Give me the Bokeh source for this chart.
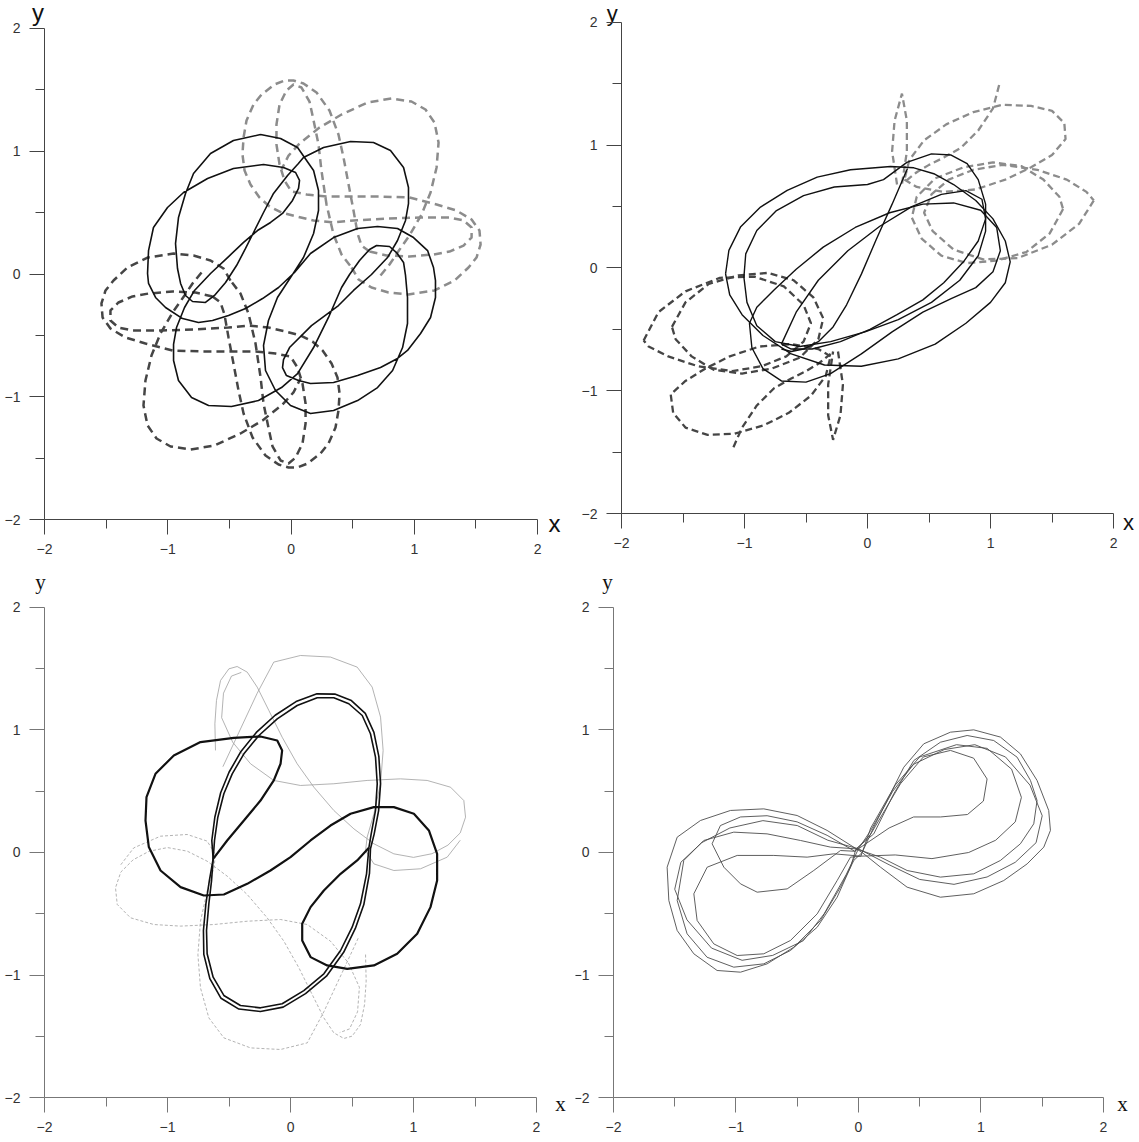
from bokeh.plotting import figure
from bokeh.layouts import column, row
from bokeh.models import Range1d, FixedTicker
from bokeh.core.properties import value
from bokeh.embed import file_html
from bokeh.resources import INLINE

# ---------------- data (data units) ----------------
ticks = [-2, -1, 0, 1, 2]
minor = [-1.5, -0.5, 0.5, 1.5]

# Panel 1: solid body
p1_solid_x = [-0.247, -0.085, 0.053, 0.183, 0.223, 0.223, 0.183, 0.101, -0.004, -0.110, -0.183, -0.223, -0.207, -0.126, -0.004, 0.158, 0.345, 0.540, 0.702, 0.824, 0.905, 0.945, 0.945, 0.929, 0.913, 0.856, 0.799, 0.694, 0.637, 0.556, 0.475, 0.410, 0.304, 0.183, 0.053, -0.077, -0.264, -0.483, -0.669, -0.807, -0.913, -0.953, -0.953, -0.929, -0.864, -0.783, -0.653, -0.515, -0.385, -0.272, -0.166, -0.069, 0.012, 0.061, 0.069, 0.037, -0.061, -0.223, -0.467, -0.677, -0.872, -1.002, -1.116, -1.156, -1.164, -1.156, -1.099, -1.018, -0.880, -0.751, -0.637, -0.507, -0.369, -0.231, -0.101, 0.028, 0.158, 0.345, 0.540, 0.702, 0.864, 0.994, 1.108, 1.156, 1.172, 1.172, 1.132, 1.051, 0.945, 0.864, 0.726, 0.540, 0.345, 0.158, 0.061, -0.037, -0.069, -0.061, -0.012, 0.166, 0.385, 0.507, 0.653, 0.783, 0.864, 0.929, 0.953, 0.953, 0.913, 0.807, 0.669, 0.483, 0.264, 0.101, 0.060, -0.028, -0.142, -0.223, -0.304, -0.369, -0.442, -0.531, -0.621, -0.694, -0.799, -0.856, -0.896, -0.921, -0.937, -0.913, -0.856, -0.791, -0.653, -0.467, -0.247]
p1_solid_y = [1.136, 1.104, 1.031, 0.843, 0.680, 0.517, 0.330, 0.134, -0.029, -0.191, -0.379, -0.582, -0.786, -0.949, -1.071, -1.136, -1.112, -1.031, -0.925, -0.786, -0.599, -0.403, -0.191, -0.012, 0.094, 0.175, 0.224, 0.232, 0.200, 0.110, -0.004, -0.110, -0.354, -0.599, -0.811, -0.925, -1.031, -1.079, -1.071, -1.006, -0.868, -0.705, -0.574, -0.436, -0.273, -0.134, 0.004, 0.134, 0.257, 0.354, 0.420, 0.493, 0.599, 0.697, 0.762, 0.827, 0.868, 0.892, 0.859, 0.778, 0.664, 0.542, 0.379, 0.191, 0.004, -0.077, -0.191, -0.273, -0.363, -0.395, -0.379, -0.338, -0.281, -0.200, -0.110, 0.012, 0.167, 0.297, 0.371, 0.387, 0.371, 0.297, 0.191, 0.053, -0.053, -0.191, -0.354, -0.485, -0.623, -0.688, -0.762, -0.827, -0.884, -0.892, -0.868, -0.827, -0.762, -0.697, -0.599, -0.420, -0.257, -0.134, -0.004, 0.134, 0.273, 0.436, 0.574, 0.705, 0.868, 1.006, 1.071, 1.079, 1.031, 0.949, 0.900, 0.802, 0.656, 0.501, 0.338, 0.208, 0.069, -0.069, -0.175, -0.232, -0.224, -0.175, -0.077, 0.045, 0.248, 0.460, 0.656, 0.819, 0.982, 1.088, 1.136]

# Panel 1: dark dashed body (lower left): three traced strokes
p1_dark_a_x = [-0.491, -0.548, -0.653, -0.791, -0.953, -1.164, -1.327, -1.440, -1.505, -1.538, -1.529, -1.465, -1.343, -1.181, -0.961, -0.718, -0.507, -0.288, -0.126, -0.004, 0.053, 0.093, 0.118, 0.118, 0.093, 0.037, -0.020, -0.085, -0.150, -0.183, -0.223, -0.247, -0.288, -0.345, -0.410, -0.491]
p1_dark_a_y = [-0.053, 0.045, 0.110, 0.151, 0.167, 0.134, 0.053, -0.053, -0.134, -0.240, -0.354, -0.444, -0.517, -0.566, -0.623, -0.631, -0.631, -0.631, -0.648, -0.672, -0.762, -0.892, -1.055, -1.218, -1.381, -1.495, -1.544, -1.519, -1.405, -1.251, -1.055, -0.843, -0.566, -0.322, -0.159, -0.053]
p1_dark_b_x = [-0.637, -0.775, -0.961, -1.156, -1.286, -1.400, -1.465, -1.465, -1.400, -1.286, -1.043, -0.775, -0.507, -0.345, -0.183, -0.045, 0.077, 0.174, 0.256, 0.329, 0.377, 0.394, 0.385, 0.361, 0.304, 0.239, 0.134, 0.053, -0.020, -0.101, -0.207, -0.312, -0.385, -0.426, -0.467, -0.507, -0.540, -0.572, -0.637]
p1_dark_b_y = [-0.183, -0.151, -0.143, -0.159, -0.183, -0.232, -0.297, -0.379, -0.436, -0.460, -0.460, -0.452, -0.436, -0.420, -0.436, -0.468, -0.501, -0.550, -0.623, -0.729, -0.843, -0.974, -1.112, -1.251, -1.381, -1.462, -1.544, -1.576, -1.576, -1.552, -1.479, -1.332, -1.136, -0.949, -0.729, -0.517, -0.330, -0.232, -0.183]
p1_dark_c_x = [-0.726, -0.799, -0.864, -0.961, -1.059, -1.132, -1.181, -1.197, -1.164, -1.091, -0.977, -0.815, -0.621, -0.410, -0.231, -0.069, 0.020, 0.077]
p1_dark_c_y = [0.012, -0.077, -0.175, -0.314, -0.485, -0.664, -0.868, -1.071, -1.234, -1.340, -1.405, -1.430, -1.397, -1.299, -1.193, -1.063, -0.965, -0.851]

# Panel 1: light dashed body (upper right): three traced strokes
p1_light_a_x = [0.491, 0.548, 0.653, 0.791, 0.953, 1.164, 1.327, 1.440, 1.505, 1.538, 1.529, 1.465, 1.343, 1.181, 0.961, 0.718, 0.507, 0.288, 0.126, 0.004, -0.053, -0.093, -0.118, -0.118, -0.093, -0.037, 0.020, 0.085, 0.150, 0.183, 0.223, 0.247, 0.288, 0.345, 0.410, 0.491]
p1_light_a_y = [0.053, -0.045, -0.110, -0.151, -0.167, -0.134, -0.053, 0.053, 0.134, 0.240, 0.354, 0.444, 0.517, 0.566, 0.623, 0.631, 0.631, 0.631, 0.648, 0.672, 0.762, 0.892, 1.055, 1.218, 1.381, 1.495, 1.544, 1.519, 1.405, 1.251, 1.055, 0.843, 0.566, 0.322, 0.159, 0.053]
p1_light_b_x = [0.637, 0.775, 0.961, 1.156, 1.286, 1.400, 1.465, 1.465, 1.400, 1.286, 1.043, 0.775, 0.507, 0.345, 0.183, 0.045, -0.077, -0.174, -0.256, -0.329, -0.377, -0.394, -0.385, -0.361, -0.304, -0.239, -0.134, -0.053, 0.020, 0.101, 0.207, 0.312, 0.385, 0.426, 0.467, 0.507, 0.540, 0.572, 0.637]
p1_light_b_y = [0.183, 0.151, 0.143, 0.159, 0.183, 0.232, 0.297, 0.379, 0.436, 0.460, 0.460, 0.452, 0.436, 0.420, 0.436, 0.468, 0.501, 0.550, 0.623, 0.729, 0.843, 0.974, 1.112, 1.251, 1.381, 1.462, 1.544, 1.576, 1.576, 1.552, 1.479, 1.332, 1.136, 0.949, 0.729, 0.517, 0.330, 0.232, 0.183]
p1_light_c_x = [0.726, 0.799, 0.864, 0.961, 1.059, 1.132, 1.181, 1.197, 1.164, 1.091, 0.977, 0.815, 0.621, 0.410, 0.231, 0.069, -0.020, -0.077]
p1_light_c_y = [-0.012, 0.077, 0.175, 0.314, 0.485, 0.664, 0.868, 1.071, 1.234, 1.340, 1.405, 1.430, 1.397, 1.299, 1.193, 1.063, 0.965, 0.851]

# Panel 2: solid body (several elongated loops) and the two dashed bodies
p2_s1_x = [-1.154, -1.127, -1.033, -0.870, -0.653, -0.409, -0.138, 0.187, 0.377, 0.539, 0.70, 0.88, 1.02, 1.12, 1.16, 1.12, 1.00, 0.80, 0.55, 0.25, -0.05, -0.35, -0.62, -0.85, -1.02, -1.12, -1.154]
p2_s1_y = [-0.048, 0.143, 0.333, 0.496, 0.632, 0.740, 0.800, 0.827, 0.816, 0.768, 0.68, 0.55, 0.40, 0.22, 0.05, -0.12, -0.28, -0.45, -0.62, -0.74, -0.80, -0.79, -0.70, -0.55, -0.38, -0.22, -0.048]
p2_s2_x = [-1.005, -0.99, -0.90, -0.74, -0.52, -0.27, 0.0, 0.13, 0.32, 0.52, 0.68, 0.81, 0.90, 0.96, 0.96, 0.90, 0.75, 0.52, 0.25, -0.02, -0.30, -0.55, -0.75, -0.90, -0.98, -1.005]
p2_s2_y = [-0.075, 0.115, 0.305, 0.468, 0.590, 0.660, 0.68, 0.72, 0.86, 0.93, 0.92, 0.85, 0.72, 0.52, 0.30, 0.10, -0.10, -0.28, -0.42, -0.52, -0.60, -0.64, -0.60, -0.47, -0.28, -0.075]
p2_s3_x = [-0.96, -0.94, -0.85, -0.70, -0.50, -0.30, -0.05, 0.20, 0.45, 0.68, 0.88, 1.02, 1.08, 1.05, 0.92, 0.70, 0.45, 0.18, -0.10, -0.36, -0.58, -0.76, -0.90, -0.96]
p2_s3_y = [-0.45, -0.65, -0.82, -0.92, -0.93, -0.86, -0.70, -0.52, -0.36, -0.25, -0.16, -0.03, 0.14, 0.33, 0.47, 0.53, 0.52, 0.45, 0.33, 0.17, -0.01, -0.18, -0.32, -0.45]
p2_s4_x = [-0.70, -0.62, -0.45, -0.22, 0.02, 0.24, 0.45, 0.62, 0.78, 0.90, 0.96, 0.93, 0.80, 0.60, 0.36, 0.10, -0.16, -0.40, -0.58, -0.70]
p2_s4_y = [-0.62, -0.66, -0.66, -0.60, -0.50, -0.38, -0.26, -0.12, 0.05, 0.22, 0.40, 0.56, 0.63, 0.60, 0.50, 0.34, 0.14, -0.10, -0.36, -0.62]
p2_s5_x = [0.325, 0.20, 0.07, -0.05, -0.17, -0.28, -0.40, -0.52, -0.62, -0.70]
p2_s5_y = [0.81, 0.52, 0.23, -0.05, -0.30, -0.48, -0.60, -0.66, -0.68, -0.66]

p2_dark_a_x = [-1.82, -1.70, -1.48, -1.20, -0.92, -0.68, -0.52, -0.46, -0.52, -0.66, -0.86, -1.10, -1.38, -1.62, -1.78, -1.82]
p2_dark_a_y = [-0.59, -0.36, -0.19, -0.08, -0.07, -0.15, -0.30, -0.45, -0.60, -0.72, -0.80, -0.84, -0.80, -0.72, -0.64, -0.59]
p2_dark_b_x = [-1.59, -1.48, -1.29, -1.05, -0.81, -0.60, -0.44, -0.36, -0.40, -0.55, -0.78, -1.02, -1.25, -1.43, -1.56, -1.59]
p2_dark_b_y = [-0.48, -0.28, -0.13, -0.06, -0.04, -0.10, -0.24, -0.41, -0.58, -0.73, -0.82, -0.86, -0.83, -0.72, -0.58, -0.48]
p2_dark_c_x = [-0.30, -0.40, -0.62, -0.88, -1.12, -1.32, -1.48, -1.60, -1.58, -1.48, -1.30, -1.08, -0.84, -0.64, -0.46, -0.34, -0.30]
p2_dark_c_y = [-0.72, -0.66, -0.62, -0.64, -0.72, -0.82, -0.92, -1.03, -1.18, -1.30, -1.36, -1.35, -1.28, -1.18, -1.04, -0.88, -0.72]
p2_dark_d_x = [-0.24, -0.20, -0.22, -0.28, -0.32, -0.32, -0.28]
p2_dark_d_y = [-0.68, -0.95, -1.20, -1.40, -1.20, -0.95, -0.68]
p2_dark_e_x = [-1.09, -1.02, -0.90, -0.76, -0.62, -0.50, -0.40, -0.30]
p2_dark_e_y = [-1.46, -1.30, -1.12, -0.98, -0.90, -0.84, -0.78, -0.70]

p2_light_a_x = [1.84, 1.72, 1.50, 1.22, 0.94, 0.70, 0.53, 0.46, 0.52, 0.66, 0.86, 1.10, 1.38, 1.62, 1.78, 1.84]
p2_light_a_y = [0.55, 0.36, 0.19, 0.08, 0.07, 0.15, 0.30, 0.45, 0.60, 0.72, 0.80, 0.84, 0.80, 0.72, 0.62, 0.55]
p2_light_b_x = [1.59, 1.48, 1.29, 1.05, 0.81, 0.60, 0.44, 0.36, 0.40, 0.55, 0.78, 1.02, 1.25, 1.43, 1.56, 1.59]
p2_light_b_y = [0.48, 0.28, 0.13, 0.06, 0.04, 0.10, 0.24, 0.41, 0.58, 0.73, 0.82, 0.86, 0.83, 0.72, 0.58, 0.48]
p2_light_c_x = [0.30, 0.40, 0.62, 0.88, 1.12, 1.33, 1.50, 1.61, 1.60, 1.50, 1.33, 1.10, 0.86, 0.64, 0.46, 0.34, 0.30]
p2_light_c_y = [0.72, 0.66, 0.62, 0.64, 0.72, 0.82, 0.92, 1.05, 1.18, 1.28, 1.32, 1.33, 1.27, 1.17, 1.04, 0.88, 0.72]
p2_light_d_x = [0.24, 0.20, 0.22, 0.28, 0.32, 0.32, 0.28]
p2_light_d_y = [0.68, 0.95, 1.20, 1.42, 1.20, 0.95, 0.68]
p2_light_e_x = [1.07, 1.02, 0.90, 0.76, 0.62, 0.50, 0.40, 0.30]
p2_light_e_y = [1.49, 1.30, 1.12, 0.98, 0.90, 0.84, 0.78, 0.70]

# Panel 3: black body, lobes + long loop (two passes of the long loop)
p3_lobes_x = [-0.629, -0.515, -0.379, -0.244, -0.136, -0.081, -0.068, -0.108, -0.244, -0.461, -0.732, -0.949, -1.098, -1.171, -1.179, -1.152, -1.057, -0.894, -0.705, -0.542, -0.352, -0.163, 0.000, 0.163, 0.325, 0.488, 0.678, 0.840, 1.003, 1.125, 1.192, 1.192, 1.138, 1.030, 0.867, 0.678, 0.461, 0.298, 0.163, 0.095, 0.095, 0.163, 0.271, 0.407, 0.542, 0.637]
p3_lobes_y = [-0.052, 0.098, 0.261, 0.424, 0.588, 0.724, 0.833, 0.914, 0.947, 0.936, 0.901, 0.792, 0.642, 0.452, 0.261, 0.044, -0.147, -0.283, -0.351, -0.343, -0.256, -0.147, -0.038, 0.098, 0.220, 0.316, 0.370, 0.370, 0.316, 0.180, -0.011, -0.229, -0.446, -0.664, -0.827, -0.922, -0.950, -0.922, -0.854, -0.718, -0.582, -0.446, -0.310, -0.174, -0.065, 0.038]
p3_loop_x = [-0.629, -0.618, -0.591, -0.542, -0.474, -0.379, -0.257, -0.108, 0.054, 0.217, 0.352, 0.474, 0.583, 0.650, 0.691, 0.705, 0.691, 0.656, 0.637, 0.618, 0.569, 0.501, 0.407, 0.271, 0.108, -0.068, -0.244, -0.407, -0.542, -0.629, -0.678, -0.683, -0.664, -0.642, -0.629]
p3_loop_y = [-0.052, 0.098, 0.288, 0.479, 0.642, 0.805, 0.955, 1.091, 1.200, 1.263, 1.263, 1.214, 1.118, 0.969, 0.778, 0.561, 0.343, 0.152, 0.038, -0.174, -0.419, -0.610, -0.800, -0.990, -1.127, -1.235, -1.268, -1.249, -1.167, -1.018, -0.827, -0.637, -0.419, -0.229, -0.052]
p3_loop2_x = [-0.629, -0.640, -0.615, -0.568, -0.500, -0.403, -0.278, -0.125, 0.045, 0.215, 0.360, 0.495, 0.608, 0.678, 0.718, 0.732, 0.716, 0.680, 0.650, 0.642, 0.596, 0.527, 0.432, 0.292, 0.122, -0.060, -0.245, -0.420, -0.565, -0.656, -0.705, -0.708, -0.688, -0.660, -0.629]
p3_loop2_y = [-0.052, 0.098, 0.290, 0.488, 0.655, 0.825, 0.980, 1.120, 1.232, 1.295, 1.293, 1.240, 1.135, 0.980, 0.785, 0.560, 0.340, 0.150, 0.030, -0.170, -0.425, -0.620, -0.815, -1.010, -1.152, -1.262, -1.298, -1.278, -1.190, -1.030, -0.832, -0.637, -0.419, -0.229, -0.052]
# Panel 3: light grey solid body (upper) and grey dashed body (lower)
p3_g1_x = [-0.610, -0.615, -0.602, -0.569, -0.501, -0.434, -0.352, -0.271, -0.176, -0.068, 0.054, 0.190, 0.352, 0.515, 0.678, 0.840, 1.000, 1.150, 1.280, 1.380, 1.423, 1.409, 1.301, 1.111, 0.894, 0.623, 0.352, 0.081, -0.136, -0.325, -0.470, -0.560, -0.545, -0.480, -0.400]
p3_g1_y = [0.833, 1.050, 1.241, 1.404, 1.499, 1.518, 1.472, 1.350, 1.159, 0.941, 0.724, 0.533, 0.343, 0.193, 0.071, -0.011, -0.040, -0.010, 0.060, 0.160, 0.288, 0.424, 0.533, 0.588, 0.601, 0.588, 0.561, 0.547, 0.588, 0.724, 0.900, 1.100, 1.300, 1.440, 1.470]
p3_g2_x = [-0.550, -0.420, -0.271, -0.136, 0.081, 0.325, 0.542, 0.664, 0.732, 0.753, 0.732, 0.678, 0.623, 0.610, 0.678, 0.840, 1.057, 1.274, 1.380]
p3_g2_y = [0.700, 0.980, 1.300, 1.554, 1.608, 1.595, 1.513, 1.350, 1.105, 0.833, 0.561, 0.316, 0.125, 0.016, -0.093, -0.147, -0.133, -0.038, 0.100]
p3_d1_x = [0.610, 0.615, 0.602, 0.569, 0.501, 0.434, 0.352, 0.271, 0.176, 0.068, -0.054, -0.190, -0.352, -0.515, -0.678, -0.840, -1.000, -1.150, -1.280, -1.380, -1.423, -1.409, -1.301, -1.111, -0.894, -0.623, -0.352, -0.081, 0.136, 0.325, 0.470, 0.560, 0.545, 0.480, 0.400]
p3_d1_y = [-0.833, -1.050, -1.241, -1.404, -1.499, -1.518, -1.472, -1.350, -1.159, -0.941, -0.724, -0.533, -0.343, -0.193, -0.071, 0.011, 0.040, 0.010, -0.060, -0.160, -0.288, -0.424, -0.533, -0.588, -0.601, -0.588, -0.561, -0.547, -0.588, -0.724, -0.900, -1.100, -1.300, -1.440, -1.470]
p3_d2_x = [0.550, 0.420, 0.271, 0.136, -0.081, -0.325, -0.542, -0.664, -0.732, -0.753, -0.732, -0.678, -0.623, -0.610, -0.678, -0.840, -1.057, -1.274, -1.380]
p3_d2_y = [-0.700, -0.980, -1.300, -1.554, -1.608, -1.595, -1.513, -1.350, -1.105, -0.833, -0.561, -0.316, -0.125, -0.016, 0.093, 0.147, 0.133, 0.038, -0.100]

# Panel 4: several thin figure-eight passes (centre -> right lobe -> centre -> left lobe -> centre)
p4_l1_x = [0.030, 0.125, 0.234, 0.370, 0.533, 0.751, 0.941, 1.159, 1.322, 1.458, 1.553, 1.567, 1.513, 1.377, 1.186, 0.941, 0.669, 0.397, 0.180, 0.030, -0.256, -0.501, -0.773, -1.045, -1.290, -1.480, -1.562, -1.548, -1.480, -1.344, -1.154, -0.963, -0.746, -0.528, -0.310, -0.147, -0.038, 0.030]
p4_l1_y = [0.000, 0.207, 0.424, 0.696, 0.887, 0.982, 1.001, 0.942, 0.805, 0.588, 0.343, 0.180, 0.044, -0.093, -0.229, -0.337, -0.365, -0.283, -0.120, 0.000, 0.180, 0.302, 0.356, 0.343, 0.261, 0.125, -0.120, -0.392, -0.637, -0.827, -0.963, -0.977, -0.909, -0.773, -0.555, -0.283, -0.065, 0.000]
p4_l2_x = [-0.020, 0.125, 0.288, 0.452, 0.669, 0.887, 1.104, 1.295, 1.404, 1.458, 1.431, 1.322, 1.159, 0.941, 0.669, 0.397, 0.180, -0.020, -0.229, -0.473, -0.746, -1.018, -1.263, -1.426, -1.480, -1.399, -1.236, -1.018, -0.773, -0.555, -0.337, -0.174, -0.065, -0.020]
p4_l2_y = [0.030, 0.152, 0.479, 0.751, 0.900, 0.955, 0.914, 0.778, 0.588, 0.424, 0.234, 0.071, -0.065, -0.174, -0.201, -0.147, -0.038, 0.030, 0.044, 0.098, 0.152, 0.166, 0.098, -0.065, -0.392, -0.664, -0.855, -0.936, -0.909, -0.800, -0.610, -0.365, -0.120, 0.030]
p4_l3_x = [0.020, 0.100, 0.300, 0.500, 0.800, 1.050, 1.250, 1.330, 1.280, 1.120, 0.900, 0.600, 0.300, 0.020, -0.201, -0.419, -0.691, -0.990, -1.235, -1.344, -1.317, -1.181, -0.990, -0.773, -0.555, -0.337, -0.174, -0.065, 0.020]
p4_l3_y = [-0.030, 0.200, 0.550, 0.780, 0.880, 0.850, 0.680, 0.450, 0.250, 0.100, 0.000, -0.050, -0.020, -0.030, -0.011, -0.038, -0.024, -0.024, -0.120, -0.337, -0.555, -0.746, -0.841, -0.827, -0.718, -0.501, -0.229, -0.038, -0.030]
p4_l4_x = [-0.030, 0.100, 0.343, 0.530, 0.751, 0.940, 1.050, 1.020, 0.890, 0.670, 0.450, 0.250, -0.030, -0.147, -0.365, -0.582, -0.827, -0.963, -1.099, -1.195, -1.127, -0.963, -0.746, -0.501, -0.256, -0.030]
p4_l4_y = [0.010, 0.150, 0.561, 0.780, 0.833, 0.770, 0.600, 0.420, 0.310, 0.290, 0.290, 0.200, 0.010, 0.016, -0.147, -0.297, -0.324, -0.256, -0.120, 0.071, 0.220, 0.290, 0.300, 0.250, 0.140, 0.010]
p4_l5_x = [0.000, 0.100, 0.280, 0.450, 0.700, 0.950, 1.200, 1.400, 1.500, 1.450, 1.280, 1.050, 0.780, 0.500, 0.250, 0.000, -0.250, -0.500, -0.780, -1.050, -1.280, -1.450, -1.500, -1.400, -1.200, -0.950, -0.700, -0.450, -0.280, -0.100, 0.000]
p4_l5_y = [0.030, 0.180, 0.500, 0.720, 0.840, 0.880, 0.780, 0.550, 0.300, 0.080, -0.080, -0.200, -0.260, -0.220, -0.100, 0.030, 0.100, 0.220, 0.260, 0.200, 0.080, -0.080, -0.300, -0.550, -0.780, -0.880, -0.840, -0.720, -0.500, -0.180, 0.030]

# figure canvases (px) and data ranges chosen so that -2..2 lands where the reference axes are
W1, W2, H1, H2 = 575, 563, 568, 573


def make_panel(W, H, xr, yr, axis_color, lab_font, lab_size, xlab, ylab):
    p = figure(width=W, height=H, x_range=Range1d(*xr), y_range=Range1d(*yr),
               output_backend="svg", toolbar_location=None, title=None, min_border=0)
    p.grid.visible = False
    p.outline_line_color = None
    p.border_fill_color = "white"
    p.background_fill_color = "white"
    p.xaxis.fixed_location = -2
    p.yaxis.fixed_location = -2
    for ax in (p.xaxis, p.yaxis):
        ax.bounds = (-2, 2)
        ax.ticker = FixedTicker(ticks=ticks, minor_ticks=minor)
        ax.major_tick_out = 15
        ax.major_tick_in = 0
        ax.minor_tick_out = 9
        ax.minor_tick_in = 0
        ax.axis_line_color = axis_color
        ax.major_tick_line_color = axis_color
        ax.minor_tick_line_color = axis_color
        ax.major_label_text_font = "Liberation Sans"
        ax.major_label_text_font_size = "14px"
        ax.major_label_text_color = "#333333"
        ax.major_label_standoff = 9
    p.text(x=[xlab[0]], y=[xlab[1]], text=["x"], text_font=value(lab_font),
           text_font_size=value(lab_size), text_color="#111111",
           text_align="center", text_baseline="alphabetic")
    p.text(x=[ylab[0]], y=[ylab[1]], text=["y"], text_font=value(lab_font),
           text_font_size=value(lab_size), text_color="#111111",
           text_align="center", text_baseline="alphabetic")
    return p


DASH = "8 5"
p1 = make_panel(W1, H1, (-2.357, 2.308), (-2.399, 2.228), "#444444", "Liberation Sans", "24px",
                (2.138, -2.033), (-2.053, 2.130))
for xs, ys in ((p1_dark_a_x, p1_dark_a_y), (p1_dark_b_x, p1_dark_b_y), (p1_dark_c_x, p1_dark_c_y)):
    p1.line(xs, ys, line_color="#454545", line_width=2.5, line_dash=DASH)
for xs, ys in ((p1_light_a_x, p1_light_a_y), (p1_light_b_x, p1_light_b_y), (p1_light_c_x, p1_light_c_y)):
    p1.line(xs, ys, line_color="#8c8c8c", line_width=2.5, line_dash=DASH)
p1.line(p1_solid_x, p1_solid_y, line_color="#111111", line_width=1.6)

p2 = make_panel(W2, H1, (-2.374, 2.203), (-2.448, 2.179), "#444444", "Liberation Sans", "22px",
                (2.122, -2.073), (-2.076, 2.077))
for xs, ys in ((p2_dark_a_x, p2_dark_a_y), (p2_dark_b_x, p2_dark_b_y), (p2_dark_c_x, p2_dark_c_y),
               (p2_dark_d_x, p2_dark_d_y), (p2_dark_e_x, p2_dark_e_y)):
    p2.line(xs, ys, line_color="#454545", line_width=2.3, line_dash="7 4")
for xs, ys in ((p2_light_a_x, p2_light_a_y), (p2_light_b_x, p2_light_b_y), (p2_light_c_x, p2_light_c_y),
               (p2_light_d_x, p2_light_d_y), (p2_light_e_x, p2_light_e_y)):
    p2.line(xs, ys, line_color="#8c8c8c", line_width=2.3, line_dash="7 4")
for xs, ys in ((p2_s1_x, p2_s1_y), (p2_s2_x, p2_s2_y), (p2_s3_x, p2_s3_y), (p2_s4_x, p2_s4_y), (p2_s5_x, p2_s5_y)):
    p2.line(xs, ys, line_color="#111111", line_width=1.4)

p3 = make_panel(W1, H2, (-2.358, 2.317), (-2.359, 2.318), "#777777", "Liberation Serif", "21px",
                (2.195, -2.053), (-2.033, 2.204))
for xs, ys in ((p3_d1_x, p3_d1_y), (p3_d2_x, p3_d2_y)):
    p3.line(xs, ys, line_color="#a0a0a0", line_width=0.8, line_dash="3 2")
for xs, ys in ((p3_g1_x, p3_g1_y), (p3_g2_x, p3_g2_y)):
    p3.line(xs, ys, line_color="#a0a0a0", line_width=0.8)
p3.line(p3_lobes_x, p3_lobes_y, line_color="#111111", line_width=2.2)
p3.line(p3_loop_x, p3_loop_y, line_color="#111111", line_width=1.6)
p3.line(p3_loop2_x, p3_loop2_y, line_color="#111111", line_width=1.6)

p4 = make_panel(W2, H2, (-2.310, 2.286), (-2.359, 2.318), "#777777", "Liberation Serif", "21px",
                (2.155, -2.053), (-2.049, 2.204))
for xs, ys in ((p4_l1_x, p4_l1_y), (p4_l2_x, p4_l2_y), (p4_l3_x, p4_l3_y), (p4_l4_x, p4_l4_y), (p4_l5_x, p4_l5_y)):
    p4.line(xs, ys, line_color="#4d4d4d", line_width=0.9)

layout = column(row(p1, p2), row(p3, p4))
open("out.html", "w").write(file_html(layout, INLINE))
